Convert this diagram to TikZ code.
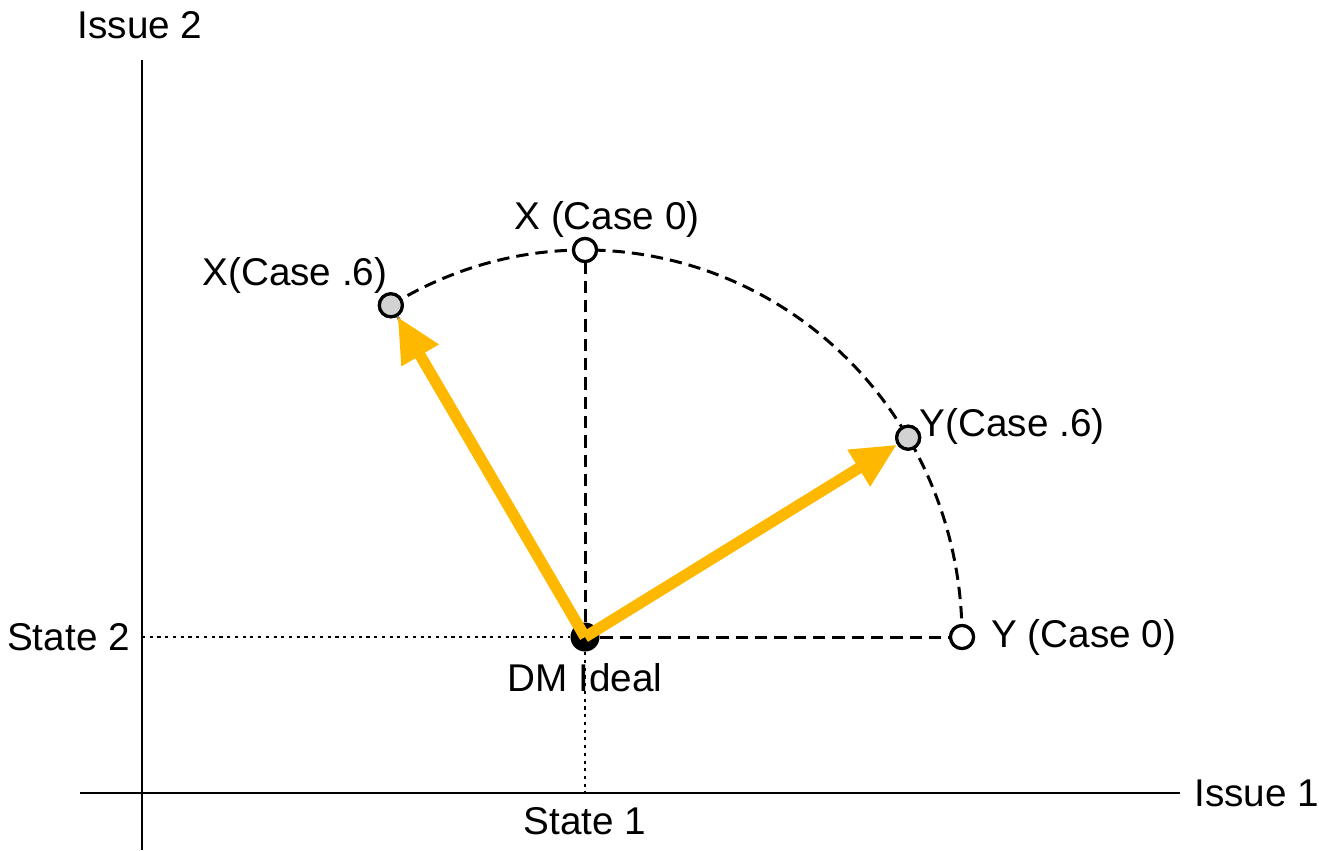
\documentclass[tikz,border=0pt]{standalone}
\usepackage{fontspec}
\setmainfont{Liberation Sans}
\usetikzlibrary{positioning, arrows.meta, calc}
\definecolor{movegold}{HTML}{FFB800}

\begin{document}
\begin{tikzpicture}[x=0.01cm, y=0.01cm,
    font=\fontsize{11}{13}\selectfont,
    lbl/.style={inner sep=1pt},
    pt/.style={circle, draw=black, line width=0.9pt, inner sep=0pt, minimum size=0.23cm},
    openpt/.style={pt, fill=white},
    shiftpt/.style={pt, fill=gray!35},
    idealpt/.style={circle, fill=black, inner sep=0pt, minimum size=0.29cm},
    dashline/.style={black, line width=0.85pt, dash pattern=on 3.5pt off 2pt},
    dotline/.style={black, line width=0.45pt, dash pattern=on 0.9pt off 1.3pt},
    move/.style={movegold, line width=3.2pt, -{Triangle[length=0.45cm, width=0.4cm]}}]
    % Area da figura
    \useasboundingbox (0,0) rectangle (1319,850);
    % Eixos
    \coordinate (ytop) at (142,790);
    \coordinate (ybot) at (142,0);
    \coordinate (xleft) at (80,57);
    \coordinate (xend) at (1180,57);
    \draw[line width=0.6pt] (ybot) -- (ytop);
    \draw[line width=0.6pt] (xleft) -- (xend);
    \node[lbl] (iss2) at (140,825) {Issue 2};
    \node[lbl, right=0.1cm of xend] (iss1) {Issue 1};
    % Pontos
    \node[idealpt] (dm) at (585,213) {};
    \node[openpt] (x0) at (585,600) {};
    \node[openpt] (y0) at (962,213) {};
    \node[shiftpt] (x6) at ($(dm)+(121:377 and 387)$) {};
    \node[shiftpt] (y6) at ($(dm)+(31:377 and 387)$) {};
    \coordinate (s1) at (585,57);
    \coordinate (s2) at (142,213);
    % Linhas de referencia
    \draw[dotline] (s2) -- (dm);
    \draw[dotline] (dm) -- (s1);
    \draw[dashline] (dm) -- (x0);
    \draw[dashline] (dm) -- (y0);
    \draw[dashline, gray] (dm) -- (x6);
    \draw[dashline] (x6.center) arc[start angle=121, end angle=0, x radius=377, y radius=387];
    % Redesenha os pontos sobre o arco
    \node[shiftpt] at (x6) {};
    \node[shiftpt] at (y6) {};
    \node[openpt] at (x0) {};
    \node[openpt] at (y0) {};
    % Deslocamentos
    \draw[move] (dm.center) -- (x6);
    \draw[move] (dm.center) -- (y6);
    % Rotulos
    \node[lbl, left=0.08cm of s2] (st2) {State 2};
    \node[lbl, below=0.1cm of s1] (st1) {State 1};
    \node[lbl, below=0.07cm of dm] (dmlbl) {DM Ideal};
    \node[lbl, above=-0.05cm of x0, xshift=0.22cm] (x0lbl) {X (Case 0)};
    \node[lbl, above left=-0.02cm and -0.1cm of x6] (x6lbl) {X(Case .6)};
    \node[lbl, above right=-0.2cm and -0.02cm of y6] (y6lbl) {Y(Case .6)};
    \node[lbl, right=0.12cm of y0] (y0lbl) {Y (Case 0)};
\end{tikzpicture}
\end{document}
